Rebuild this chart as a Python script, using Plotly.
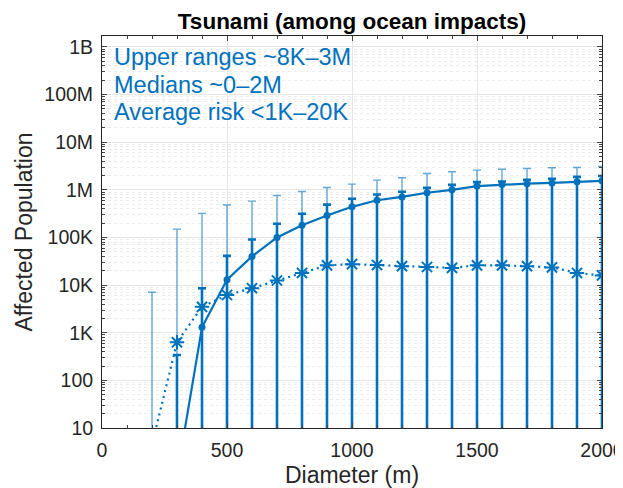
import plotly.graph_objects as go

# ---------------- data ----------------
diameters = [200, 300, 400, 500, 600, 700, 800, 900, 1000, 1100, 1200,
             1300, 1400, 1500, 1600, 1700, 1800, 1900, 2000]
# thin light bars: upper range of affected population
upper_range = [7.1e3, 1.5e5, 3.2e5, 4.8e5, 5.8e5, 7.6e5, 9.2e5, 1.12e6, 1.32e6,
               1.6e6, 1.8e6, 2.2e6, 2.4e6, 2.6e6, 2.7e6, 2.8e6, 2.9e6, 2.95e6, 3.1e6]
# medians (None = zero, not drawn on log axis)
median = [None, 1, 1.3e3, 1.3e4, 4.0e4, 1.0e5, 1.8e5, 2.9e5, 4.4e5, 6.05e5, 7.1e5,
          8.7e5, 1.0e6, 1.2e6, 1.29e6, 1.35e6, 1.4e6, 1.48e6, 1.55e6]
# upper end of the thick error bars around the medians
median_upper = [None, 340, 8.6e3, 4.1e4, 9.1e4, 1.94e5, 3.15e5, 4.9e5, 6.5e5, 8.0e5,
                9.1e5, 1.1e6, 1.27e6, 1.45e6, 1.5e6, 1.62e6, 1.7e6, 1.87e6, 1.96e6]
# average risk
average = [4.5, 630, 3.5e3, 6.2e3, 8.6e3, 1.25e4, 1.8e4, 2.6e4, 2.75e4, 2.65e4, 2.5e4,
           2.4e4, 2.3e4, 2.6e4, 2.6e4, 2.5e4, 2.35e4, 1.8e4, 1.6e4]

y_tickvals = [10, 100, 1e3, 1e4, 1e5, 1e6, 1e7, 1e8, 1e9]
y_ticktext = ["10", "100", "1K", "10K", "100K", "1M", "10M", "100M", "1B"]
x_tickvals = [0, 500, 1000, 1500, 2000]

notes = ["Upper ranges ~8K\u20133M", "Medians ~0\u20132M", "Average risk <1K\u201320K"]

# ---------------- style ----------------
BLUE = "#0072BD"
LIGHT = "rgba(0,114,189,0.62)"
FLOOR = 0.01  # bars reach below the visible axis bottom
FONT = "Liberation Sans, Arial, Helvetica, sans-serif"
AX = "#262626"

fig = go.Figure()

# thin "upper range" bars
fig.add_trace(go.Scatter(
    x=diameters, y=upper_range, mode="markers",
    marker=dict(size=1, opacity=0),
    error_y=dict(type="data", symmetric=False,
                 array=[0] * len(upper_range),
                 arrayminus=[u - FLOOR for u in upper_range],
                 color=LIGHT, thickness=1.4, width=4),
    showlegend=False, hoverinfo="skip"))

# medians with thick bars
med_plus = [None if (m is None or u is None) else u - m for m, u in zip(median, median_upper)]
med_minus = [None if m is None else m - FLOOR for m in median]
fig.add_trace(go.Scatter(
    x=diameters, y=median, mode="lines+markers",
    line=dict(color=BLUE, width=2.2),
    marker=dict(symbol="circle", size=7, color=BLUE),
    connectgaps=False,
    error_y=dict(type="data", symmetric=False, array=med_plus, arrayminus=med_minus,
                 color=BLUE, thickness=2.6, width=4),
    showlegend=False))

# average risk
fig.add_trace(go.Scatter(
    x=diameters, y=average, mode="lines+markers",
    line=dict(color=BLUE, width=2.2, dash="2px,4px"),
    marker=dict(symbol="asterisk-open", size=12, color=BLUE,
                line=dict(color=BLUE, width=2)),
    showlegend=False))

for i, t in enumerate(notes):
    fig.add_annotation(
        text=t, xref="paper", yref="paper", x=0.02, y=[0.946, 0.876, 0.806][i],
        xanchor="left", yanchor="middle", showarrow=False,
        font=dict(family=FONT, size=23.5, color=BLUE))

# page body has an 8px margin, so the figure is drawn 8px in from the window corner
fig.update_layout(
    width=615, height=480,
    margin=dict(l=94, r=21, t=28, b=60, autoexpand=False),
    paper_bgcolor="white", plot_bgcolor="white",
    font=dict(family=FONT, size=19.5, color=AX),
    title=dict(text="<b>Tsunami (among ocean impacts)</b>", x=0.5, xref="paper",
               xanchor="center", y=1 - 13 / 480, yref="container", yanchor="middle",
               font=dict(family=FONT, size=22.5, color="black")),
    xaxis=dict(range=[0, 2000], tickvals=x_tickvals, ticks="inside", ticklen=5,
               showline=True, linecolor=AX, linewidth=1, mirror="ticks", automargin=False,
               showgrid=True, gridcolor="#e6e6e6", gridwidth=1, zeroline=False,
               minor=dict(dtick=100, ticks="inside", ticklen=3, showgrid=False),
               title=dict(text="Diameter (m)", font=dict(size=23, color=AX), standoff=8),
               tickfont=dict(size=19.5, color=AX), ticklabelstandoff=5,
               ticklabeloverflow="allow"),
    yaxis=dict(type="log", range=[1, 9.23], tickvals=y_tickvals, ticktext=y_ticktext,
               ticks="inside", ticklen=5, showline=True, linecolor=AX, linewidth=1,
               mirror="ticks", showgrid=True, gridcolor="#e6e6e6", gridwidth=1,
               zeroline=False, automargin=False,
               minor=dict(dtick="D1", ticks="inside", ticklen=3, showgrid=True,
                          gridcolor="#ececec", griddash="dot", gridwidth=1),
               title=dict(text="Affected Population", font=dict(size=23, color=AX), standoff=5),
               tickfont=dict(size=19.5, color=AX), ticklabelstandoff=4),
)

fig.write_html("out.html")
